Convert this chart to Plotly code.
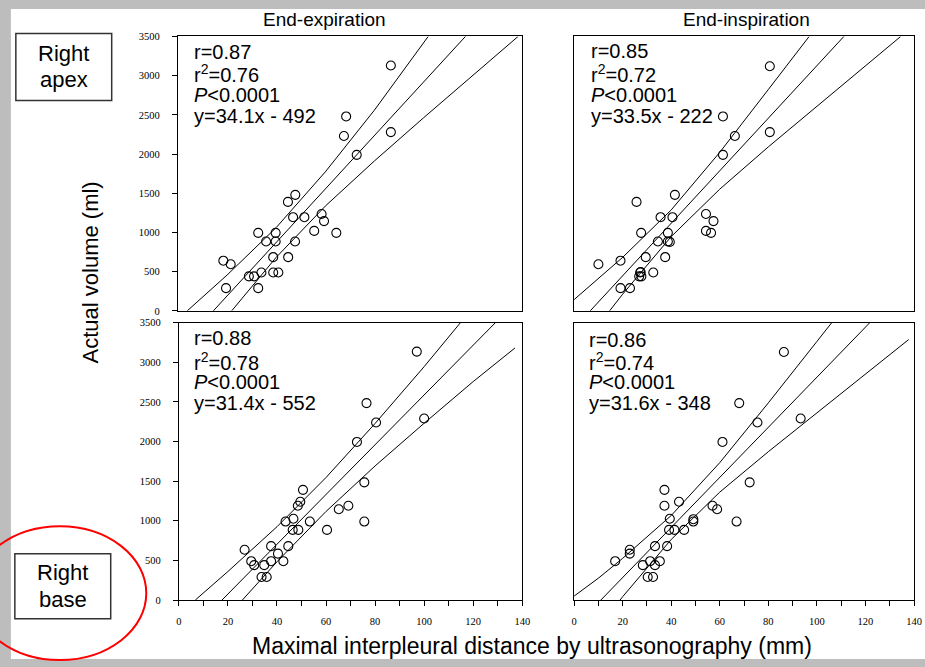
import plotly.graph_objects as go

W, H = 925, 667


def px(x):
    return x / W


def py(y):
    return 1 - y / H


# ---------------- data ----------------
col_titles = ["End-expiration", "End-inspiration"]
row_labels = [["Right", "apex"], ["Right", "base"]]
y_title = "Actual volume (ml)"
x_title = "Maximal interpleural distance by ultrasonography (mm)"

y_ticks = [0, 500, 1000, 1500, 2000, 2500, 3000, 3500]
x_ticks = [0, 20, 40, 60, 80, 100, 120, 140]
x_minor_step = 10

# Right apex, end-expiration
tl_x = [86.7, 68.5, 67.6, 86.7, 72.8, 47.8, 44.8, 46.9, 51.5, 58.5, 59.5, 55.5, 64.5, 32.7, 39.8,
        35.9, 39.8, 47.7, 38.8, 44.9, 18.5, 21.5, 28.9, 31.0, 34.0, 38.8, 40.9, 19.6, 32.7]
tl_y = [3130, 2480, 2230, 2280, 1990, 1480, 1390, 1195, 1195, 1235, 1145, 1020, 995, 995, 995,
        885, 885, 885, 685, 685, 640, 595, 440, 440, 490, 490, 490, 290, 290]
tl_slope, tl_icpt = 34.1, -492
tl_up_x = [3.8, 20, 40, 60, 80, 101.9]
tl_up_y = [0, 456, 1062, 1772, 2560, 3500]
tl_lo_x = [21.9, 40, 60, 80, 100, 120, 138.5]
tl_lo_y = [0, 682, 1336, 1912, 2462, 3003, 3500]
tl_stats = ["r=0.87", "r<sup>2</sup>=0.76", "<i>P</i>&lt;0.0001", "y=34.1x - 492"]

# Right apex, end-inspiration
tr_x = [80.6, 61.3, 66.2, 80.6, 61.3, 41.5, 25.7, 35.6, 40.5, 54.3, 57.4, 54.3, 56.4, 27.6, 38.6,
        34.5, 38.6, 39.4, 19.1, 29.5, 37.5, 10.0, 27.2, 26.8, 27.7, 32.6, 27.4, 19.1, 23.0]
tr_y = [3120, 2480, 2230, 2280, 1990, 1480, 1390, 1195, 1195, 1235, 1145, 1020, 995, 995, 995,
        885, 885, 880, 640, 685, 685, 595, 490, 440, 440, 490, 495, 290, 290]
tr_slope, tr_icpt = 33.5, -222
tr_up_x = [0, 10, 20, 40, 60, 80, 96.8]
tr_up_y = [144, 410, 683, 1288, 2023, 2824, 3500]
tr_lo_x = [14.6, 20, 40, 60, 80, 100, 120, 134.5]
tr_lo_y = [0, 213, 948, 1553, 2092, 2613, 3128, 3500]
tr_stats = ["r=0.85", "r<sup>2</sup>=0.72", "<i>P</i>&lt;0.0001", "y=33.5x - 222"]

# Right base, end-expiration
bl_x = [97.0, 76.5, 80.4, 100.0, 72.6, 50.6, 49.5, 48.5, 75.6, 69.1, 65.2, 46.7, 43.5, 53.4, 75.6,
        46.4, 48.7, 60.4, 37.6, 44.6, 26.8, 40.4, 29.5, 37.6, 42.6, 30.7, 34.8, 33.7, 35.8]
bl_y = [3135, 2485, 2240, 2290, 1995, 1390, 1240, 1190, 1485, 1190, 1145, 1025, 990, 990, 990,
        885, 885, 885, 680, 680, 635, 585, 490, 490, 490, 440, 440, 290, 290]
bl_slope, bl_icpt = 31.4, -552
bl_up_x = [6.7, 20, 40, 60, 80, 100, 114.8]
bl_up_y = [0, 360, 925, 1546, 2228, 2945, 3500]
bl_lo_x = [25.9, 40, 60, 80, 100, 120, 137]
bl_lo_y = [0, 483, 1118, 1692, 2231, 2757, 3180]
bl_stats = ["r=0.88", "r<sup>2</sup>=0.78", "<i>P</i>&lt;0.0001", "y=31.4x - 552"]

# Right base, end-inspiration
br_x = [86.4, 68.0, 75.5, 93.3, 61.1, 72.3, 37.2, 43.2, 37.2, 57.0, 58.9, 39.4, 49.1, 49.1, 66.9,
        39.1, 41.3, 45.3, 33.3, 38.3, 22.9, 22.9, 16.9, 31.3, 35.3, 28.3, 33.3, 30.3, 32.5]
br_y = [3130, 2485, 2240, 2290, 1995, 1485, 1390, 1240, 1190, 1190, 1145, 1025, 1020, 990, 990,
        885, 885, 885, 680, 680, 635, 585, 490, 490, 490, 440, 440, 290, 290]
br_slope, br_icpt = 31.6, -348
br_up_x = [0, 10, 20, 40, 60, 80, 100, 106.1]
br_up_y = [50, 276, 526, 1067, 1734, 2488, 3263, 3500]
br_lo_x = [18.9, 20, 40, 60, 80, 100, 120, 137.8]
br_lo_y = [0, 42, 765, 1362, 1872, 2361, 2844, 3287]
br_stats = ["r=0.86", "r<sup>2</sup>=0.74", "<i>P</i>&lt;0.0001", "y=31.6x - 348"]

# ---------------- layout geometry (pixels) ----------------
panels = [
    dict(k="", xd=(177, 525), yd=(32, 311), left=True, bottom=False,
         pts=(tl_x, tl_y), fit=(tl_slope, tl_icpt), up=(tl_up_x, tl_up_y), lo=(tl_lo_x, tl_lo_y),
         stats=tl_stats, tx=191, ty=[47.5, 69.5, 91.5, 112.5]),
    dict(k="2", xd=(578, 922), yd=(32, 311), left=False, bottom=False,
         pts=(tr_x, tr_y), fit=(tr_slope, tr_icpt), up=(tr_up_x, tr_up_y), lo=(tr_lo_x, tr_lo_y),
         stats=tr_stats, tx=593, ty=[47, 69.5, 91.5, 112.5]),
    dict(k="3", xd=(178, 525.5), yd=(323, 605), left=True, bottom=True,
         pts=(bl_x, bl_y), fit=(bl_slope, bl_icpt), up=(bl_up_x, bl_up_y), lo=(bl_lo_x, bl_lo_y),
         stats=bl_stats, tx=191, ty=[339, 362, 383.5, 405]),
    dict(k="4", xd=(578, 922), yd=(323, 605), left=False, bottom=True,
         pts=(br_x, br_y), fit=(br_slope, br_icpt), up=(br_up_x, br_up_y), lo=(br_lo_x, br_lo_y),
         stats=br_stats, tx=591, ty=[341, 362.5, 383.5, 405]),
]

fig = go.Figure()
annotations = []
layout_axes = {}

line_style = dict(color="black", width=1)
tick_font = dict(family="Liberation Serif", size=10.5, color="black")

for p in panels:
    xa = "x" + p["k"]
    ya = "y" + p["k"]
    px_, py_ = p["pts"]
    m, b = p["fit"]
    fx = [0, 140]
    fy = [m * v + b for v in fx]
    fig.add_trace(go.Scatter(x=p["up"][0], y=p["up"][1], mode="lines", line=line_style,
                             xaxis=xa, yaxis=ya, showlegend=False, hoverinfo="skip"))
    fig.add_trace(go.Scatter(x=fx, y=fy, mode="lines", line=line_style,
                             xaxis=xa, yaxis=ya, showlegend=False, hoverinfo="skip"))
    fig.add_trace(go.Scatter(x=p["lo"][0], y=p["lo"][1], mode="lines", line=line_style,
                             xaxis=xa, yaxis=ya, showlegend=False, hoverinfo="skip"))
    fig.add_trace(go.Scatter(x=px_, y=py_, mode="markers",
                             marker=dict(symbol="circle-open", size=9, color="black",
                                         line=dict(width=1.1, color="black")),
                             xaxis=xa, yaxis=ya, showlegend=False))

    xd = [px(p["xd"][0]), px(p["xd"][1])]
    yd = [py(p["yd"][1]), py(p["yd"][0])]
    xaxis = dict(domain=xd, range=[0, 140], anchor=ya, showgrid=False, zeroline=False,
                 showline=True, linecolor="black", linewidth=1, mirror=True)
    yaxis = dict(domain=yd, range=[0, 3500], anchor=xa, showgrid=False, zeroline=False,
                 showline=True, linecolor="black", linewidth=1, mirror=True)
    if p["bottom"]:
        xaxis.update(ticks="outside", tickvals=x_ticks, ticklen=5,
                     tickcolor="black", tickwidth=1, tickfont=tick_font,
                     ticklabelstandoff=6,
                     minor=dict(ticks="outside", dtick=x_minor_step, tick0=0, ticklen=5,
                                tickcolor="black", tickwidth=1, showgrid=False))
    else:
        xaxis.update(showticklabels=False, ticks="")
    if p["left"]:
        yaxis.update(ticks="outside", tickvals=y_ticks, ticklen=5, tickcolor="black",
                     tickwidth=1, tickfont=tick_font, ticklabelstandoff=10)
    else:
        yaxis.update(showticklabels=False, ticks="")
    layout_axes["xaxis" + p["k"]] = xaxis
    layout_axes["yaxis" + p["k"]] = yaxis

    for txt, yy in zip(p["stats"], p["ty"]):
        annotations.append(dict(text=txt, x=px(p["tx"]), y=py(yy), xref="paper", yref="paper",
                                xanchor="left", yanchor="middle", showarrow=False,
                                font=dict(family="Liberation Sans", size=20, color="black")))

# column titles
for t, cx in zip(col_titles, [325, 752]):
    annotations.append(dict(text=t, x=px(cx), y=py(15), xref="paper", yref="paper",
                            xanchor="center", yanchor="middle", showarrow=False,
                            font=dict(family="Liberation Sans", size=19, color="black")))

# axis titles
annotations.append(dict(text=y_title, x=px(89), y=py(272), xref="paper", yref="paper",
                        xanchor="center", yanchor="middle", showarrow=False, textangle=-90,
                        font=dict(family="Liberation Sans", size=22, color="black")))
annotations.append(dict(text=x_title, x=px(535), y=py(652), xref="paper", yref="paper",
                        xanchor="center", yanchor="middle", showarrow=False,
                        font=dict(family="Liberation Sans", size=23, color="black")))

# background sheet and row label boxes
shapes = [
    dict(type="rect", xref="paper", yref="paper", x0=px(8), x1=px(935), y0=py(665), y1=py(4),
         fillcolor="white", line=dict(width=0), layer="below"),
]
for (l1, l2), (bx0, by0, bx1, by1) in zip(row_labels, [(13, 29, 110, 97), (12, 558, 109, 624)]):
    shapes.append(dict(type="rect", xref="paper", yref="paper", x0=px(bx0), x1=px(bx1),
                       y0=py(by1), y1=py(by0), line=dict(color="#333333", width=1.5)))
    cx = (bx0 + bx1) / 2
    cy = (by0 + by1) / 2
    annotations.append(dict(text=l1, x=px(cx), y=py(cy - 14), xref="paper", yref="paper",
                            xanchor="center", yanchor="middle", showarrow=False,
                            font=dict(family="Liberation Sans", size=22, color="black")))
    annotations.append(dict(text=l2, x=px(cx), y=py(cy + 13), xref="paper", yref="paper",
                            xanchor="center", yanchor="middle", showarrow=False,
                            font=dict(family="Liberation Sans", size=22, color="black")))

# red ellipse around "Right base"
shapes.append(dict(type="circle", xref="paper", yref="paper", x0=px(-30), x1=px(145),
                   y0=py(666), y1=py(530), line=dict(color="red", width=2)))

fig.update_layout(
    width=W, height=H,
    margin=dict(l=0, r=0, t=0, b=0),
    paper_bgcolor="#bdbdbd",
    plot_bgcolor="rgba(0,0,0,0)",
    showlegend=False,
    annotations=annotations,
    shapes=shapes,
    **layout_axes,
)

fig.write_html("out.html")
